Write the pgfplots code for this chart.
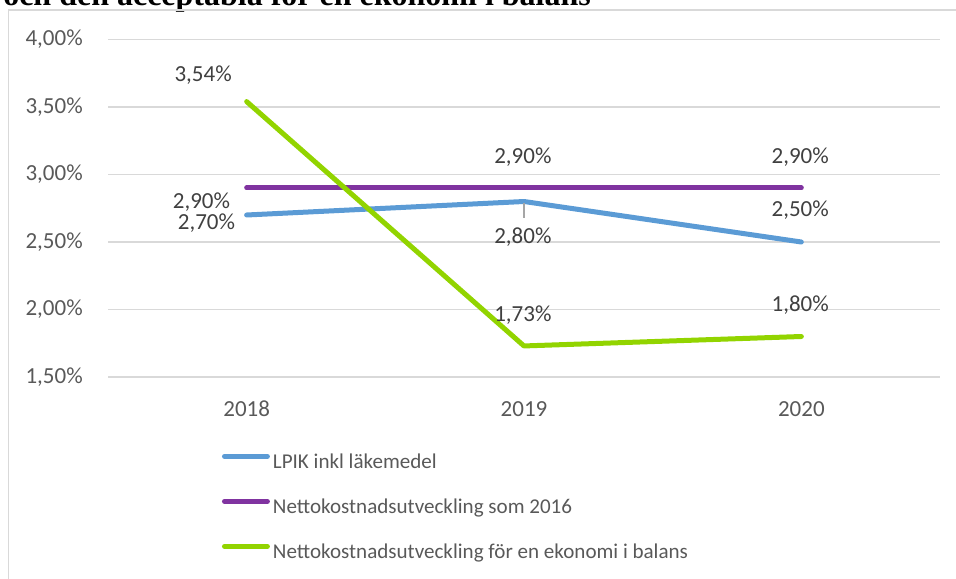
\documentclass[border=0pt]{standalone}
\usepackage{pgfplots}
\pgfplotsset{compat=1.18}
\usepackage{fontspec}
\setmainfont{Carlito}
\newfontfamily\titlefont{Liberation Serif}
\definecolor{lblue}{HTML}{5B9BD5}
\definecolor{lpurple}{HTML}{8033A0}
\definecolor{lgreen}{HTML}{92D400}
\definecolor{gridgray}{HTML}{D9D9D9}
\definecolor{tickgray}{HTML}{595959}
\definecolor{lblgray}{HTML}{404040}
\pgfplotstableread{
x lpik netto2016 balans
0 2.70 2.90 3.54
1 2.80 2.90 1.73
2 2.50 2.90 1.80
}\datatable
\begin{document}
\begin{tikzpicture}[x=0.75pt,y=0.75pt]
\path[use as bounding box] (0,0) rectangle (956,578);
\clip (0,0) rectangle (956,578);
% title (cut off at top)
\node[anchor=base west, inner sep=0pt] at (3,572) {\titlefont\bfseries\fontsize{24}{28}\selectfont och den acceptabla för en ekonomi i balans};
% chart frame
\draw[gridgray, line width=1.1pt] (8.5,-10) -- (8.5,568) -- (970,568);
\begin{axis}[
  at={(81pt,150.75pt)}, anchor=south west,
  scale only axis, width=624pt, height=253.125pt,
  xmin=-0.5, xmax=2.5, ymin=1.5, ymax=4.0,
  xtick={0,1,2}, xticklabels={2018,2019,2020},
  ytick={1.5,2.0,2.5,3.0,3.5,4.0},
  yticklabels={{1,50\%},{2,00\%},{2,50\%},{3,00\%},{3,50\%},{4,00\%}},
  axis line style={draw=none},
  major tick length=0pt,
  ymajorgrids, grid style={color=gridgray, line width=1.2pt},
  tick label style={font=\fontsize{17.25}{20}\selectfont, text=tickgray, inner sep=0pt},
  yticklabel style={anchor=east, xshift=-18.75pt},
  xticklabel style={anchor=north, yshift=-18pt},
  clip=false,
  legend style={draw=none, fill=none, inner sep=0pt, outer sep=0pt,
    at={(0.137,-0.2237)}, anchor=north west,
    row sep=17.75pt, column sep=2.25pt,
    font=\fontsize{15.8}{19}\selectfont, text=tickgray,
    nodes={inner sep=0pt, text height=12pt, text depth=4pt}},
  legend cell align=left,
  legend image code/.code={\draw[#1, line width=3.75pt, line cap=round] (1.9pt,5.1pt) -- (34.1pt,5.1pt);},
  every axis plot/.append style={line width=3.75pt, line cap=round, line join=round, mark=none},
]
\addplot[lblue] table[x=x, y=lpik] {\datatable};
\addlegendentry{LPIK inkl läkemedel}
\addplot[lpurple] table[x=x, y=netto2016] {\datatable};
\addlegendentry{Nettokostnadsutveckling som 2016}
\addplot[lgreen] table[x=x, y=balans] {\datatable};
\addlegendentry{Nettokostnadsutveckling för en ekonomi i balans}
% leader line
\draw[gray!70, line width=0.9pt] (axis cs:1,2.79) -- (axis cs:1,2.68);
% data labels
\begin{scope}[every node/.style={font=\fontsize{17.25}{20}\selectfont, text=lblgray, inner sep=0pt}]
\node at (axis cs:-0.157,3.737) {3,54\%};
\node at (axis cs:-0.163,2.796) {2,90\%};
\node at (axis cs:-0.145,2.641) {2,70\%};
\node at (axis cs:0.996,3.130) {2,90\%};
\node at (axis cs:0.996,2.537) {2,80\%};
\node at (axis cs:0.996,1.959) {1,73\%};
\node at (axis cs:1.996,3.130) {2,90\%};
\node at (axis cs:1.996,2.737) {2,50\%};
\node at (axis cs:1.996,2.033) {1,80\%};
\end{scope}
\end{axis}
\end{tikzpicture}
\end{document}
